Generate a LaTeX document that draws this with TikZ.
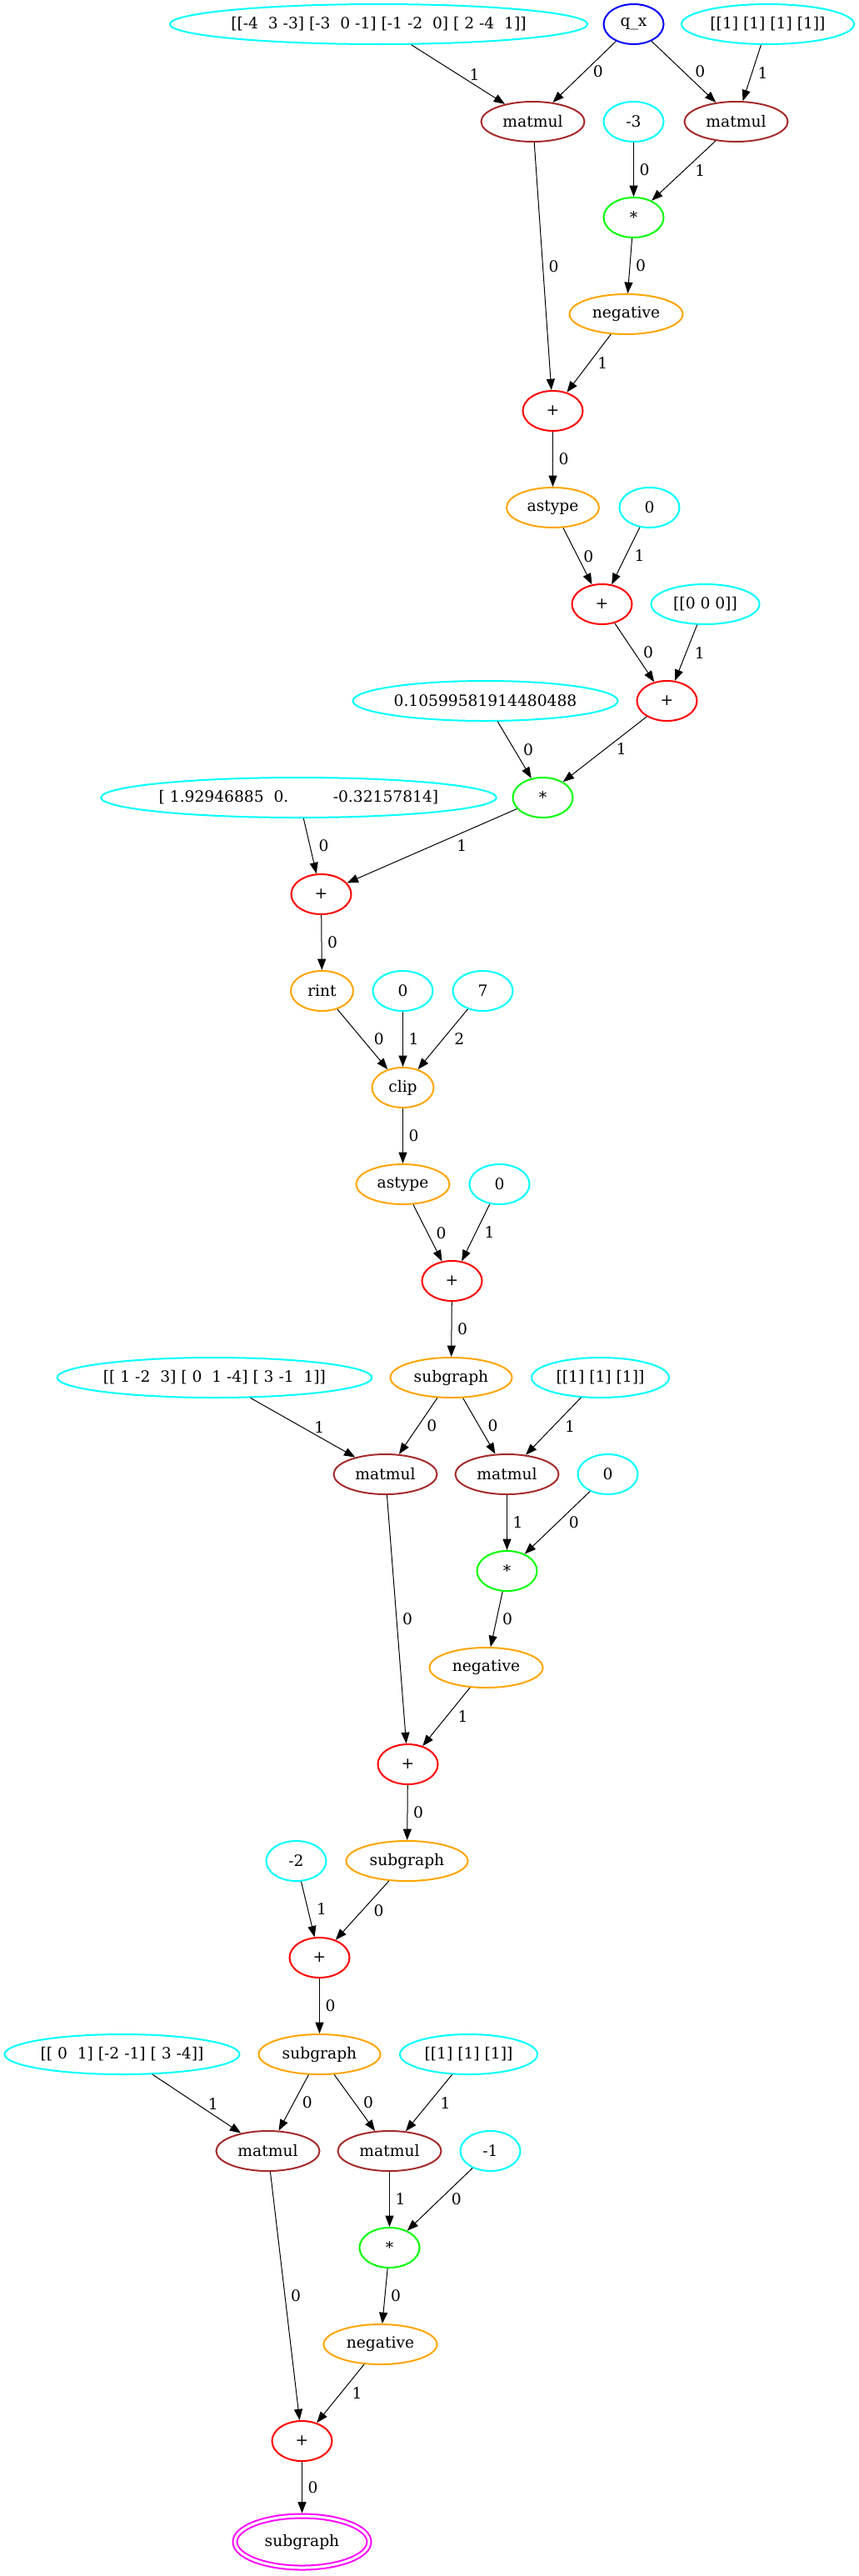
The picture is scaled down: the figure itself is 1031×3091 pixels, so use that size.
\documentclass[tikz,border=0pt]{standalone}
\usepackage{fontspec}
\setmainfont{DejaVu Serif}
\usepackage{tikz}
\usetikzlibrary{arrows.meta,shapes.geometric}
\definecolor{gvcyan}{HTML}{00FFFF}
\definecolor{gvblue}{HTML}{0000FF}
\definecolor{gvbrown}{HTML}{A52A2A}
\definecolor{gvgreen}{HTML}{00FF00}
\definecolor{gvorange}{HTML}{FFA500}
\definecolor{gvred}{HTML}{FF0000}
\definecolor{gvmagenta}{HTML}{FF00FF}
\tikzset{
  >={Triangle[length=10pt,width=7.5pt]},
  % noder
  gn/.style={ellipse,line width=1.5pt,inner sep=0pt,minimum width=54pt,minimum height=36pt},
  wd/.style={minimum width=#1*0.75pt},
  konst/.style={gn,draw=gvcyan},
  inpt/.style={gn,draw=gvblue},
  mmop/.style={gn,draw=gvbrown,wd=124},
  mulop/.style={gn,draw=gvgreen},
  fnop/.style={gn,draw=gvorange},
  addop/.style={gn,draw=gvred},
  outp/.style={gn,draw=gvmagenta,double=white,double distance=2.25pt,wd=161,
               minimum height=46.5pt,outer sep=2.6pt},
  % kanter
  ge/.style={->,draw=black,line width=0.75pt},
  el/.style={anchor=west,inner sep=1pt,xshift=4pt},
  els/.style={el,xshift=2.5pt},
  elr/.style={el,xshift=5pt},
}
\begin{document}
\begin{tikzpicture}[x=0.75pt,y=-0.75pt,every node/.append style={font=\fontsize{14}{17}\selectfont}]
  \useasboundingbox (-0.5,0) rectangle (1030.5,3091);
  % block 1
  \node[konst,wd=487] (w1) at (454,29) {[[-4~~3 -3] [-3~~0 -1] [-1 -2~~0] [ 2 -4~~1]]};
  \node[inpt] (qx) at (760,29) {q\_x};
  \node[konst,wd=207] (one1) at (921,29) {[[1] [1] [1] [1]]};
  \node[mmop] (mm1) at (639,146) {matmul};
  \node[konst] (kn3) at (760,146) {-3};
  \node[mmop] (mm2) at (883,146) {matmul};
  \node[mulop] (mul1) at (760,261) {*};
  \node[fnop,wd=136] (neg1) at (751,377) {negative};
  \node[addop] (add1) at (663,493) {+};
  \node[fnop,wd=111] (ast1) at (663,609) {astype};
  \node[konst] (z1) at (779,609) {0};
  \node[addop] (add2) at (722,725) {+};
  \node[konst,wd=130] (zz) at (846,725) {[[0 0 0]]};
  \node[addop] (add3) at (800,841) {+};
  \node[konst,wd=318] (sc) at (582,841) {0.10599581914480488};
  \node[mulop] (mul2) at (651,957) {*};
  \node[konst,wd=469] (bias) at (358,957) {[ 1.92946885~~0.~~~~~~~~~-0.32157814]};
  \node[addop] (add4) at (385,1073) {+};
  \node[fnop,wd=75] (rint) at (386,1189) {rint};
  \node[konst] (lo) at (483,1189) {0};
  \node[konst] (hi) at (579,1189) {7};
  \node[fnop,wd=74] (clip) at (483,1305) {clip};
  \node[fnop,wd=112] (ast2) at (483,1421) {astype};
  \node[konst] (z3) at (599,1421) {0};
  \node[addop] (add5) at (542,1537) {+};
  % block 2
  \node[fnop,wd=146] (sub1) at (541,1653) {subgraph};
  \node[konst,wd=374] (w2) at (257,1653) {[[ 1 -2~~3] [ 0~~1 -4] [ 3 -1~~1]]};
  \node[konst,wd=165] (one2) at (720,1653) {[[1] [1] [1]]};
  \node[mmop] (mm3) at (462,1769) {matmul};
  \node[mmop] (mm4) at (608,1769) {matmul};
  \node[konst] (z4) at (729,1769) {0};
  \node[mulop] (mul3) at (608,1885) {*};
  \node[fnop,wd=136] (neg2) at (583,2001) {negative};
  \node[addop] (add6) at (489,2117) {+};
  \node[fnop,wd=146] (sub2) at (488,2233) {subgraph};
  \node[konst] (kn2) at (355,2233) {-2};
  \node[addop] (add7) at (383,2349) {+};
  % block 3
  \node[fnop,wd=146] (sub3) at (383,2465) {subgraph};
  \node[konst,wd=282] (w3) at (146,2465) {[[ 0~~1] [-2 -1] [ 3 -4]]};
  \node[konst,wd=165] (one3) at (562,2465) {[[1] [1] [1]]};
  \node[mmop] (mm5) at (321,2581) {matmul};
  \node[mmop] (mm6) at (467,2581) {matmul};
  \node[konst] (kn1) at (588,2581) {-1};
  \node[mulop] (mul4) at (467,2697) {*};
  \node[fnop,wd=136] (neg3) at (456,2813) {negative};
  \node[addop] (add8) at (362,2929) {+};
  \node[outp] (out) at (362,3050) {subgraph};

  \draw[ge] (w1) -- node[elr]{1} (mm1);
  \draw[ge] (qx) -- node[els]{0} (mm1);
  \draw[ge] (qx) -- node[elr]{0} (mm2);
  \draw[ge] (one1) -- node[el]{1} (mm2);
  \draw[ge] (mm1) -- node[el]{0} (add1);
  \draw[ge] (kn3) -- node[el]{0} (mul1);
  \draw[ge] (mm2) -- node[elr]{1} (mul1);
  \draw[ge] (mul1) -- node[el]{0} (neg1);
  \draw[ge] (neg1) -- node[els]{1} (add1);
  \draw[ge] (add1) -- node[el]{0} (ast1);
  \draw[ge] (ast1) -- node[el]{0} (add2);
  \draw[ge] (z1) -- node[els]{1} (add2);
  \draw[ge] (add2) -- node[els]{0} (add3);
  \draw[ge] (zz) -- node[els]{1} (add3);
  \draw[ge] (sc) -- node[els]{0} (mul2);
  \draw[ge] (add3) -- node[elr]{1} (mul2);
  \draw[ge] (bias) -- node[els]{0} (add4);
  \draw[ge] (mul2) -- node[elr,xshift=12pt]{1} (add4);
  \draw[ge] (add4) -- node[el]{0} (rint);
  \draw[ge] (rint) -- node[elr]{0} (clip);
  \draw[ge] (lo) -- node[el]{1} (clip);
  \draw[ge] (hi) -- node[elr]{2} (clip);
  \draw[ge] (clip) -- node[el]{0} (ast2);
  \draw[ge] (ast2) -- node[els]{0} (add5);
  \draw[ge] (z3) -- node[els]{1} (add5);
  \draw[ge] (add5) -- node[el]{0} (sub1);
  \draw[ge] (w2) -- node[elr]{1} (mm3);
  \draw[ge] (sub1) -- node[els]{0} (mm3);
  \draw[ge] (sub1) -- node[els]{0} (mm4);
  \draw[ge] (one2) -- node[elr]{1} (mm4);
  \draw[ge] (mm3) -- node[el]{0} (add6);
  \draw[ge] (mm4) -- node[el]{1} (mul3);
  \draw[ge] (z4) -- node[elr]{0} (mul3);
  \draw[ge] (mul3) -- node[el]{0} (neg2);
  \draw[ge] (neg2) -- node[elr]{1} (add6);
  \draw[ge] (add6) -- node[el]{0} (sub2);
  \draw[ge] (kn2) -- node[els]{1} (add7);
  \draw[ge] (sub2) -- node[elr]{0} (add7);
  \draw[ge] (add7) -- node[el]{0} (sub3);
  \draw[ge] (w3) -- node[elr]{1} (mm5);
  \draw[ge] (sub3) -- node[els]{0} (mm5);
  \draw[ge] (sub3) -- node[els]{0} (mm6);
  \draw[ge] (one3) -- node[elr]{1} (mm6);
  \draw[ge] (mm5) -- node[el]{0} (add8);
  \draw[ge] (mm6) -- node[el]{1} (mul4);
  \draw[ge] (kn1) -- node[elr]{0} (mul4);
  \draw[ge] (mul4) -- node[el]{0} (neg3);
  \draw[ge] (neg3) -- node[elr]{1} (add8);
  \draw[ge] (add8) -- node[el]{0} (out);
\end{tikzpicture}
\end{document}
